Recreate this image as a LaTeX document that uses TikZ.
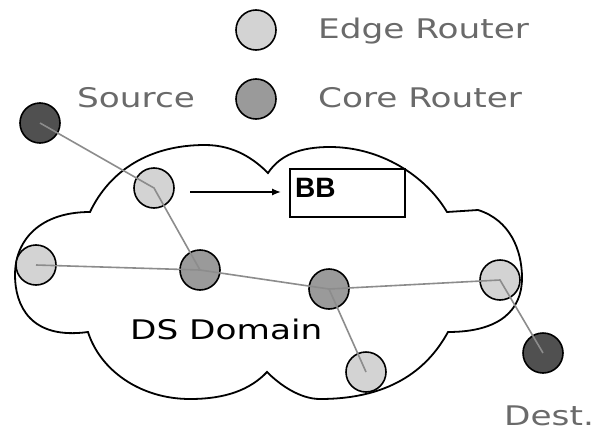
\documentclass[tikz,border=0pt]{standalone}
\usepackage{fontspec}
\newfontfamily\widesans[FakeStretch=1.27]{DejaVu Sans}
\newfontfamily\labelsans{Liberation Sans}
\usetikzlibrary{arrows.meta}

\definecolor{edgefill}{HTML}{D3D3D3}
\definecolor{corefill}{HTML}{9A9A9A}
\definecolor{hostfill}{HTML}{505050}
\definecolor{linkgray}{HTML}{8C8C8C}
\definecolor{legendgray}{HTML}{6A6A6A}

\tikzset{
  router/.style={circle, draw=black, line width=1.6pt, minimum size=40pt, inner sep=0pt},
  edgerouter/.style={router, fill=edgefill},
  corerouter/.style={router, fill=corefill},
  hostnode/.style={router, fill=hostfill},
  link/.style={draw=linkgray, line width=1.6pt},
  widetext/.style={font=\widesans\fontsize{27}{30}\selectfont, anchor=base west, inner sep=0pt},
  legendtext/.style={widetext, text=legendgray},
  bbbox/.style={draw=black, line width=1.8pt, minimum width=115pt, minimum height=48pt, inner sep=0pt},
  cloudline/.style={draw=black, line width=1.8pt}
}

\begin{document}
\begin{tikzpicture}[x=1pt, y=-1pt]
\useasboundingbox (0,0) rectangle (600,434);
\fill[white] (0,0) rectangle (600,434);

% DS domain cloud outline (six lobes)
\draw[cloudline]
  (88,332) .. controls (30,340) and (15,305) .. (15,275)
           .. controls (15,240) and (40,212) .. (90,212)
           .. controls (110,170) and (150,145) .. (205,145)
           .. controls (235,145) and (255,160) .. (268,173)
           .. controls (280,155) and (300,147) .. (330,147)
           .. controls (380,147) and (425,175) .. (447,212)
           -- (478,210)
           .. controls (510,220) and (522,250) .. (522,278)
           .. controls (522,310) and (500,332) .. (448,332)
           .. controls (430,365) and (395,399) .. (320,399)
           .. controls (300,399) and (280,385) .. (267,372)
           .. controls (250,390) and (225,399) .. (190,399)
           .. controls (140,399) and (100,370) .. (88,332) -- cycle;

% legend
\node[edgerouter] (legedge) at (256,30) {};
\node[corerouter] (legcore) at (256,99) {};
\node[legendtext] (legedgetext) at (318,38) {Edge Router};
\node[legendtext] (legcoretext) at (318,107) {Core Router};
\node[legendtext] (sourcetext) at (77,107) {Source};

% hosts and routers
\node[hostnode]   (src)    at (40,123)  {};
\node[edgerouter] (etop)   at (154,188) {};
\node[edgerouter] (eleft)  at (36,265)  {};
\node[corerouter] (core1)  at (200,270) {};
\node[corerouter] (core2)  at (329,289) {};
\node[edgerouter] (eright) at (500,280) {};
\node[edgerouter] (ebot)   at (366,372) {};
\node[hostnode]   (dst)    at (543,353) {};

% links between hosts and routers
\draw[link] (src.center) -- (etop.center) -- (core1.center);
\draw[link] (eleft.center) -- (core1.center) -- (core2.center) -- (eright.center) -- (dst.center);
\draw[link] (core2.center) -- (ebot.center);

% bandwidth broker
\node[bbbox] (bb) at (347.5,193) {};
\node[font=\labelsans\bfseries\fontsize{28}{30}\selectfont, anchor=base west, inner sep=0pt] (bbtext) at (295,197) {BB};
\coordinate (bbarrowstart) at (190,192);
\draw[line width=1.6pt, -{Latex[length=9pt,width=7pt]}, shorten >=8pt] (bbarrowstart) -- (bbarrowstart -| bb.west);

% labels
\node[widetext] (domaintext) at (130,339) {DS Domain};
\node[legendtext] (desttext) at (504,425) {Dest.};
\end{tikzpicture}
\end{document}
